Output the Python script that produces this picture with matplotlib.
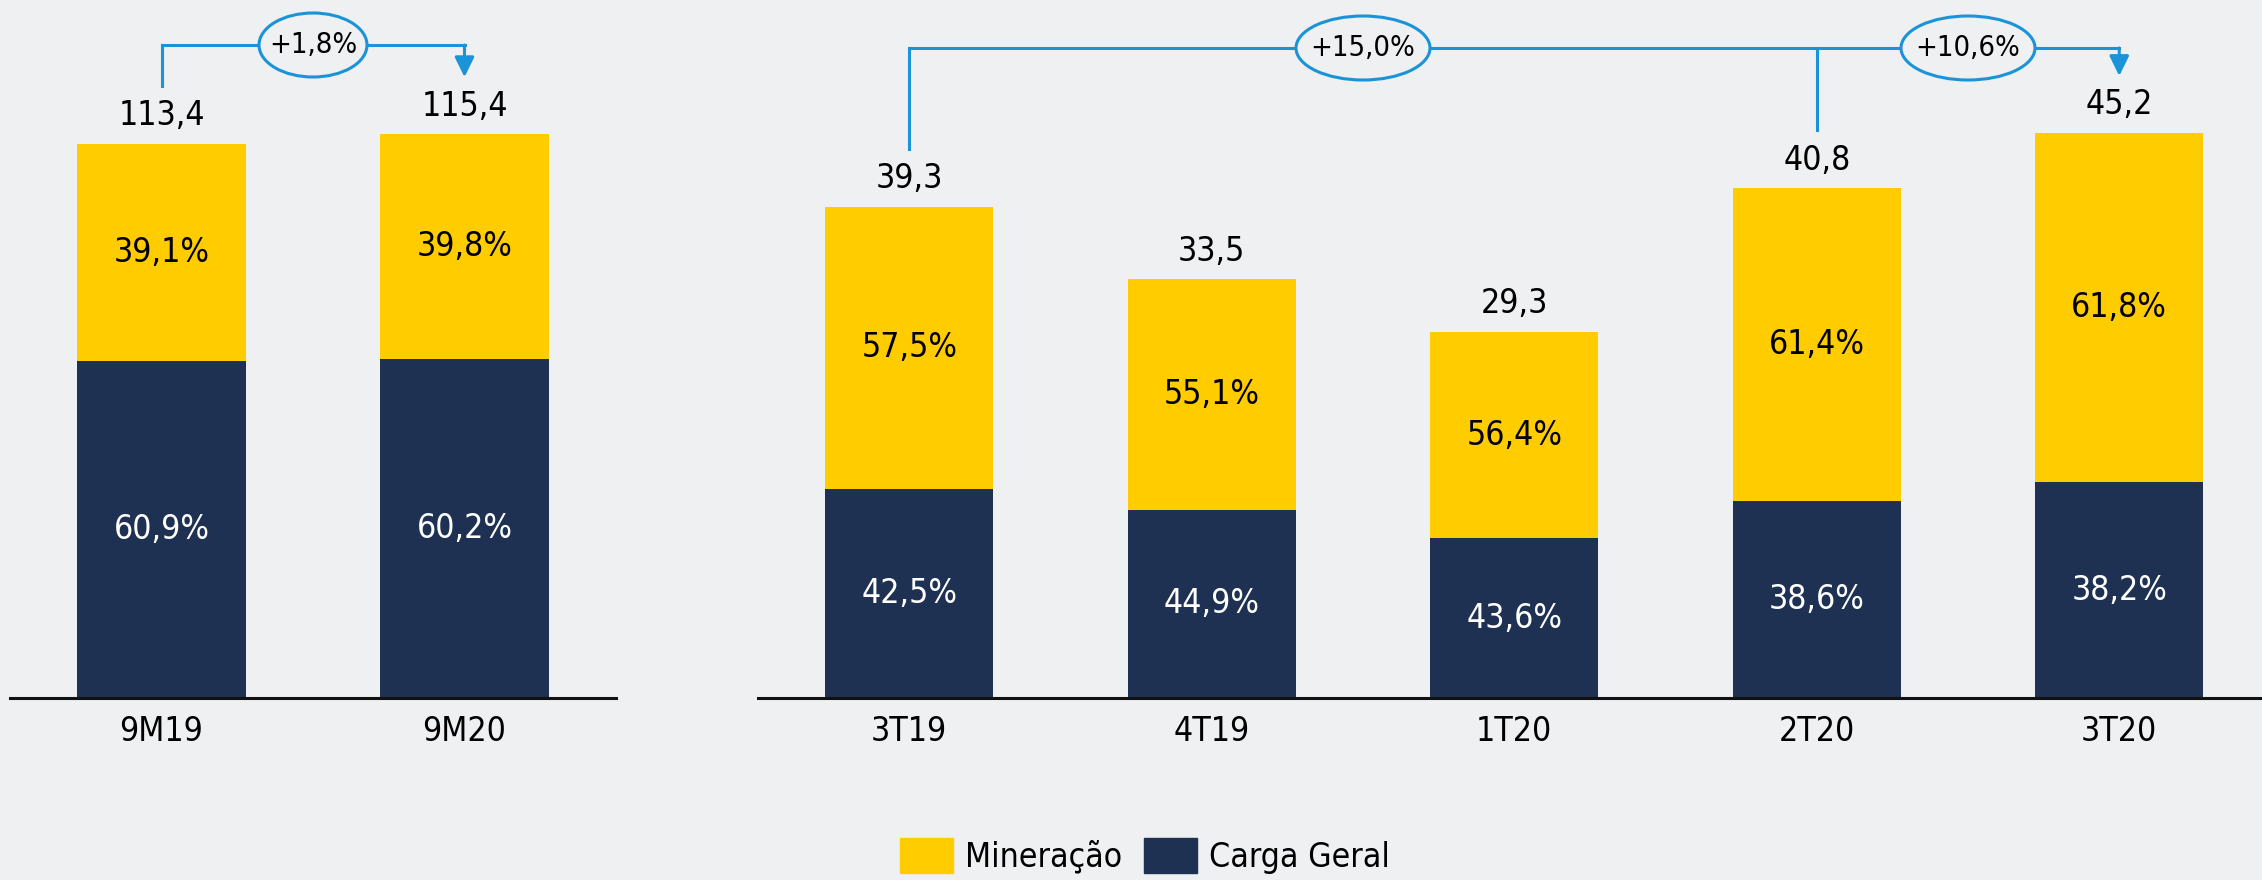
import numpy as np
import matplotlib
matplotlib.use("Agg")
import matplotlib.pyplot as plt
from matplotlib import font_manager as fm
from matplotlib.patches import Ellipse, Patch, FancyArrowPatch
from matplotlib.lines import Line2D

# ---------------- data ----------------
left_cats = ["9M19", "9M20"]
left_totals = [113.4, 115.4]
left_min_pct = [39.1, 39.8]
left_carga_pct = [60.9, 60.2]

right_cats = ["3T19", "4T19", "1T20", "2T20", "3T20"]
right_totals = [39.3, 33.5, 29.3, 40.8, 45.2]
right_min_pct = [57.5, 55.1, 56.4, 61.4, 61.8]
right_carga_pct = [42.5, 44.9, 43.6, 38.6, 38.2]

left_changes = [("9M19", "9M20", "+1,8%")]
right_changes = [("3T19", "3T20", "+15,0%"), ("2T20", "3T20", "+10,6%")]

series_names = ["Mineração", "Carga Geral"]

# ---------------- style ----------------
YELLOW = "#FFCC00"
NAVY = "#1E3152"
BLUE = "#1A93D8"
BG = "#EFF0F1"
W_PX, H_PX = 2262, 880

names = {f.name for f in fm.fontManager.ttflist}
stretch = "normal"
size_scale = 1.0
if "Liberation Sans Narrow" in names:
    family = ["Liberation Sans Narrow", "DejaVu Sans"]
elif any(f.name == "DejaVu Sans" and str(f.stretch) in ("condensed", "semi-condensed")
         for f in fm.fontManager.ttflist):
    family = ["DejaVu Sans"]
    stretch = "condensed"
    size_scale = 0.93
else:
    family = ["Roboto", "DejaVu Sans"]
    size_scale = 0.85
plt.rcParams["font.family"] = family
plt.rcParams["font.stretch"] = stretch

FS = 26 * size_scale
FS_SMALL = 22.5 * size_scale
FS_PX = FS * 100 / 72


def fmt(v):
    return f"{v:.1f}".replace(".", ",")


fig = plt.figure(figsize=(W_PX / 100, H_PX / 100), dpi=100, facecolor=BG)

base_y = 698
ax_bottom = (H_PX - base_y) / H_PX
ax_h = base_y / H_PX
spacing = 302.5
bar_w = 168 / spacing

ax_l = fig.add_axes([10 / W_PX, ax_bottom, 606 / W_PX, ax_h])
ax_r = fig.add_axes([758 / W_PX, ax_bottom, (W_PX - 758) / W_PX, ax_h])
ax_l.set_xlim(-0.5, 1.5)
ax_l.set_ylim(0, base_y / 4.886)
ax_r.set_xlim(-0.5, (W_PX - 758) / spacing - 0.5)
ax_r.set_ylim(0, base_y / 12.5)


def to_fig(ax, x, y):
    p = ax.transData.transform((x, y))
    return fig.transFigure.inverted().transform(p)


def draw(ax, cats, totals, minp, cargap, changes, line_px, ell_w):
    ax.set_facecolor("none")
    x = np.arange(len(cats))
    carga = [t * p / 100 for t, p in zip(totals, cargap)]
    mine = [t * p / 100 for t, p in zip(totals, minp)]
    ax.bar(x, carga, width=bar_w, color=NAVY, zorder=2)
    ax.bar(x, mine, bottom=carga, width=bar_w, color=YELLOW, zorder=2)
    for xi, c, m, cp, mp, t in zip(x, carga, mine, cargap, minp, totals):
        ax.text(xi, c / 2, fmt(cp) + "%", color="white", ha="center", va="center", fontsize=FS, zorder=3)
        ax.text(xi, c + m / 2, fmt(mp) + "%", color="black", ha="center", va="center", fontsize=FS, zorder=3)
        ax.annotate(fmt(t), xy=(xi, t), xytext=(0, 28 * 0.72), textcoords="offset points",
                    ha="center", va="center", fontsize=FS, color="black", zorder=3)
    for s in ("top", "left", "right"):
        ax.spines[s].set_visible(False)
    ax.spines["bottom"].set_linewidth(2.2)
    ax.spines["bottom"].set_color("#111111")
    ax.set_yticks([])
    ax.set_xticks(x, cats)
    ax.tick_params(axis="x", length=0, pad=12, labelsize=FS, colors="black")

    # change brackets
    idx = {c: i for i, c in enumerate(cats)}
    yl = 1 - line_px / H_PX
    starts = sorted({idx[a] for a, b, _ in changes})
    end = max(idx[b] for a, b, _ in changes)
    lw = 2.2
    x0 = to_fig(ax, starts[0], 0)[0]
    x1 = to_fig(ax, end, 0)[0]
    fig.add_artist(Line2D([x0, x1], [yl, yl], transform=fig.transFigure, color=BLUE, lw=lw, zorder=5))
    for s in starts:
        xs, ytop = to_fig(ax, s, totals[s])
        yb = ytop + 58 / H_PX
        fig.add_artist(Line2D([xs, xs], [yb, yl], transform=fig.transFigure, color=BLUE, lw=lw, zorder=5))
    xe, ytop = to_fig(ax, end, totals[end])
    fig.add_artist(FancyArrowPatch((xe, yl), (xe, ytop + 57 / H_PX), transform=fig.transFigure,
                                   arrowstyle="-|>,head_length=0.45,head_width=0.22", mutation_scale=27,
                                   color=BLUE, lw=lw, shrinkA=0, shrinkB=0, zorder=5))
    nexts = starts[1:] + [end]
    for (a, b, lab) in changes:
        s = idx[a]
        n = nexts[starts.index(s)]
        cx = to_fig(ax, (s + n) / 2, 0)[0]
        fig.add_artist(Ellipse((cx, yl), ell_w / W_PX, 64 / H_PX, transform=fig.transFigure,
                               facecolor=BG, edgecolor=BLUE, lw=lw, zorder=6))
        fig.text(cx, yl, lab, ha="center", va="center", fontsize=FS_SMALL, color="black", zorder=7)


draw(ax_l, left_cats, left_totals, left_min_pct, left_carga_pct, left_changes, 45, 108)
draw(ax_r, right_cats, right_totals, right_min_pct, right_carga_pct, right_changes, 48, 134)

handles = [Patch(color=YELLOW), Patch(color=NAVY)]
fig.legend(handles, series_names, loc="center", bbox_to_anchor=(0.506, 1 - 856 / H_PX), ncol=2,
           frameon=False, fontsize=FS, handlelength=53 / FS_PX, handleheight=40 / FS_PX,
           handletextpad=12 / FS_PX, columnspacing=22 / FS_PX, borderpad=0)

fig.savefig("out.png", dpi=100, facecolor=BG)
